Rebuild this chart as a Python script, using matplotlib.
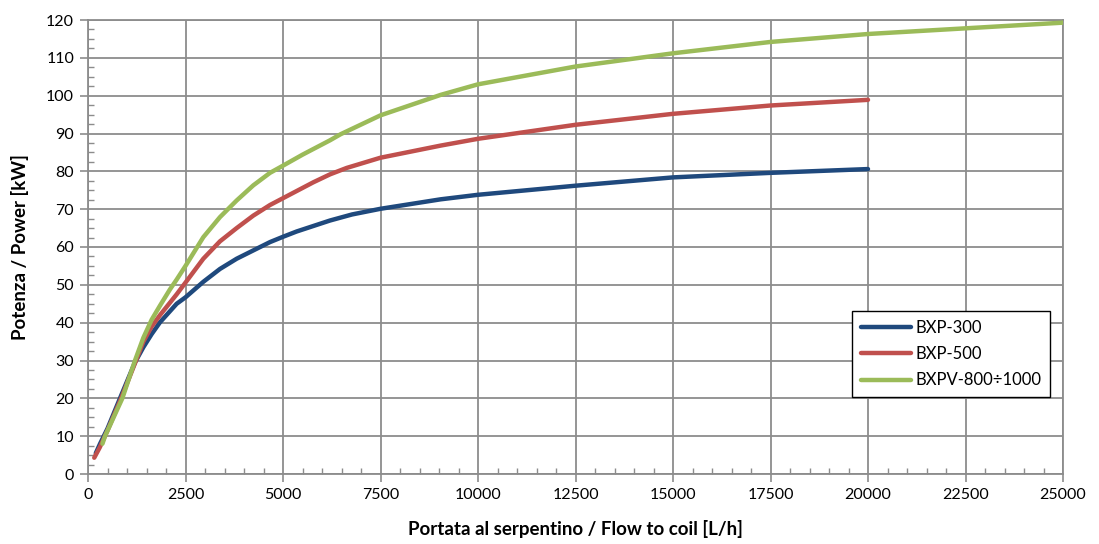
import matplotlib
matplotlib.use('Agg')
import matplotlib.pyplot as plt
from matplotlib.ticker import MultipleLocator

# readings from the reference chart
x_300 = [200, 310, 500, 820, 1205, 1419, 1633, 1846, 2274, 2500, 2957, 3384, 3812, 4239, 4667, 5000, 5350,
         6205, 6770, 7500, 9040, 10000, 12500, 15000, 17500, 20000]
p_300 = [5.5, 8.0, 12.0, 20.0, 29.5, 33.5, 37.0, 40.1, 45.0, 46.7, 50.8, 54.2, 56.9, 59.1, 61.3, 62.7, 64.1,
         67.0, 68.6, 70.1, 72.6, 73.8, 76.2, 78.4, 79.6, 80.6]

x_500 = [160, 300, 500, 850, 1205, 1419, 1633, 1846, 2274, 2500, 2957, 3384, 3812, 4239, 4667, 5000, 5777,
         6205, 6633, 7500, 9040, 10000, 12500, 15000, 17500, 20000]
p_500 = [4.3, 7.0, 11.5, 20.0, 29.3, 35.0, 39.0, 42.0, 47.5, 50.6, 56.9, 61.5, 65.0, 68.3, 71.1, 72.9, 77.1,
         79.2, 80.9, 83.6, 86.8, 88.6, 92.3, 95.2, 97.4, 98.9]

x_800 = [370, 436, 880, 1205, 1419, 1633, 1846, 2102, 2274, 2500, 2957, 3384, 3812, 4239, 4667, 5000, 5500,
         6205, 6476, 7500, 9040, 10000, 12500, 15000, 17500, 20000, 22500, 25000]
p_800 = [8.0, 10.0, 20.0, 30.0, 36.0, 40.8, 44.5, 48.8, 51.4, 55.0, 62.6, 67.9, 72.3, 76.3, 79.6, 81.5, 84.4,
         88.2, 89.8, 94.8, 100.2, 103.0, 107.7, 111.2, 114.2, 116.3, 117.8, 119.3]

labels = ['BXP-300', 'BXP-500', 'BXPV-800÷1000']
colors = ['#1F497D', '#C0504D', '#9BBB59']

plt.rcParams['font.family'] = ['Lato', 'DejaVu Sans']

fig = plt.figure(figsize=(10.99, 5.44), dpi=100)
ax = fig.add_axes([88/1099, 1-474/544, (1063-88)/1099, (474-20)/544])

for xs, ys, lab, c in zip([x_300, x_500, x_800], [p_300, p_500, p_800], labels, colors):
    ax.plot(xs, ys, color=c, lw=3.2, label=lab, solid_capstyle='round', solid_joinstyle='round', zorder=3)

ax.set_xlim(0, 25000)
ax.set_ylim(0, 120)
ax.xaxis.set_major_locator(MultipleLocator(2500))
ax.xaxis.set_minor_locator(MultipleLocator(500))
ax.yaxis.set_major_locator(MultipleLocator(10))
ax.yaxis.set_minor_locator(MultipleLocator(2.5))

ax.grid(True, which='major', color='#8C8C8C', lw=1.3)
for s in ax.spines.values():
    s.set_color('#8C8C8C')
    s.set_linewidth(1.3)
ax.tick_params(which='major', direction='out', length=6, width=1.2, color='#8C8C8C', labelsize=11.5, pad=4)
ax.tick_params(which='minor', direction='in', length=4, width=1, color='#8C8C8C')

ax.set_xlabel('Portata al serpentino / Flow to coil [L/h]', fontsize=13.5, fontweight='bold', labelpad=13)
ax.set_ylabel('Potenza / Power [kW]', fontsize=13.5, fontweight='bold', labelpad=12)

leg = ax.legend(loc='lower right', bbox_to_anchor=(0.9867, 0.17), borderaxespad=0, fontsize=12,
                frameon=True, fancybox=False, edgecolor='black', framealpha=1,
                handlelength=3.0, borderpad=0.5, labelspacing=0.62, handletextpad=0.3)
leg.get_frame().set_linewidth(1.0)

fig.savefig('out.png', dpi=100)
